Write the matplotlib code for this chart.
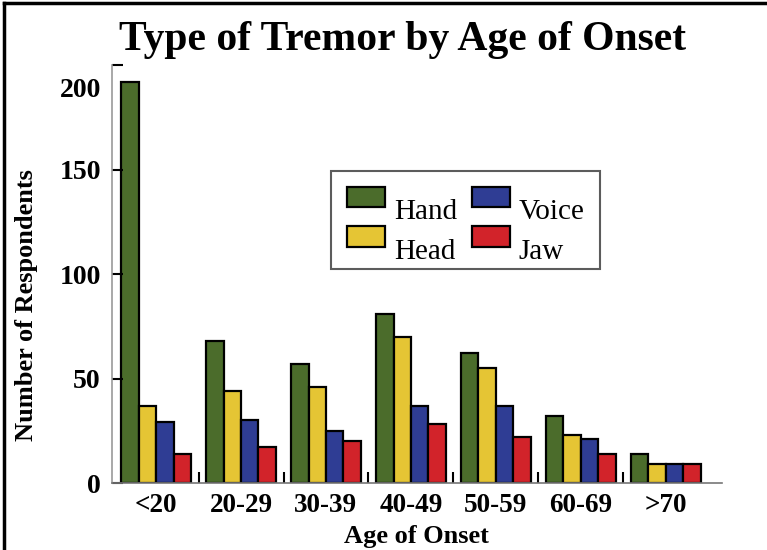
import numpy as np
import matplotlib.pyplot as plt
from matplotlib.lines import Line2D
from matplotlib.transforms import ScaledTranslation

plt.rcParams['font.family'] = ['Liberation Serif', 'DejaVu Serif']

# data
age_groups = ['<20', '20-29', '30-39', '40-49', '50-59', '60-69', '>70']
hand = [192, 68, 57, 81, 62, 32, 14]
head = [37, 44, 46, 70, 55, 23, 9]
voice = [29, 30, 25, 37, 37, 21, 9]
jaw = [14, 17, 20, 28, 22, 14, 9]

series = [('Hand', hand, '#4b6c2b'),
          ('Head', head, '#e5c534'),
          ('Voice', voice, '#2f3d94'),
          ('Jaw', jaw, '#d2232a')]

fig = plt.figure(figsize=(7.67, 5.5), dpi=100)
ax = fig.add_axes([0.146, 0.1218, 0.795, 0.76])

x = np.arange(len(age_groups))
w = 0.205
for k, (name, vals, col) in enumerate(series):
    ax.bar(x + (k - 1.5) * w, vals, w, color=col, edgecolor='black',
           linewidth=1.6, label=name)

ax.set_xlim(-0.52, 6.66)
ax.set_ylim(0, 200)
ax.set_yticks([0, 50, 100, 150, 200])
ax.set_xticks(x)
ax.set_xticklabels(age_groups)
ax.set_xticks(x[:-1] + 0.5, minor=True)

for s in ['top', 'right']:
    ax.spines[s].set_visible(False)
ax.spines['left'].set_color('#999999')
ax.spines['bottom'].set_color('#777777')
ax.spines['left'].set_linewidth(1.2)
ax.spines['bottom'].set_linewidth(1.2)

ax.tick_params(axis='y', direction='in', length=8, width=1.5, color='black',
               labelsize=20, pad=8)
ax.tick_params(axis='x', which='major', length=0, labelsize=19.5, pad=7)
ax.tick_params(axis='x', which='minor', direction='in', length=8, width=1.5, color='black')
for lab in ax.get_xticklabels() + ax.get_yticklabels():
    lab.set_fontweight('bold')

# the top label sits lower than its tick in the original
fig.canvas.draw()
top_lab = ax.get_yticklabels()[-1]
top_lab.set_transform(top_lab.get_transform() + ScaledTranslation(0, -0.22, fig.dpi_scale_trans))

ax.set_xlabel('Age of Onset', fontsize=19, fontweight='bold', labelpad=5)
ax.set_ylabel('Number of Respondents', fontsize=19, fontweight='bold')
ax.yaxis.set_label_coords(-0.121, 0.426)

fig.text(0.525, 0.928, 'Type of Tremor by Age of Onset', ha='center', va='center',
         fontsize=30, fontweight='bold')

leg = ax.legend(ncol=2, loc='upper left', bbox_to_anchor=(0.336, 0.782),
                fontsize=21, frameon=True, fancybox=False, edgecolor='#333333',
                handlelength=1.3, handleheight=0.7, columnspacing=0.5,
                labelspacing=0.45, borderpad=0.55, handletextpad=0.3)
leg.get_frame().set_linewidth(1.5)
for t in leg.get_texts():
    t.set_y(-12)

fig.add_artist(Line2D([0.005, 0.005], [0, 0.995], color='black', lw=2.5))
fig.add_artist(Line2D([0.005, 1.0], [0.995, 0.995], color='black', lw=2.5))

fig.savefig('out.png', dpi=100)
